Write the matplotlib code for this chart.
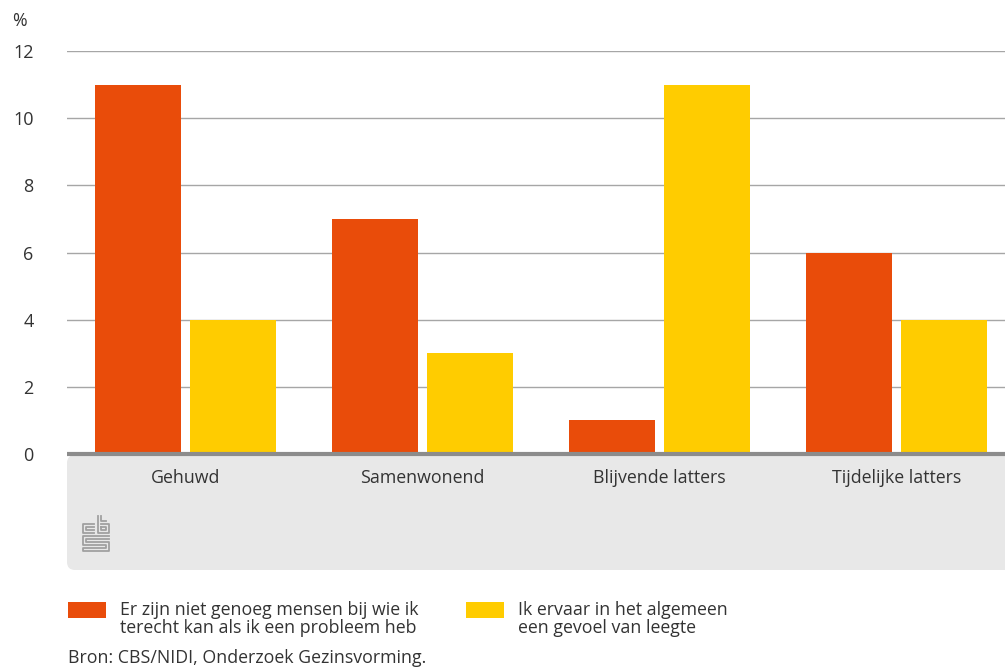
import numpy as np
import matplotlib.pyplot as plt
from matplotlib.patches import FancyBboxPatch, Rectangle
from matplotlib.lines import Line2D

plt.rcParams['font.family'] = ['Open Sans', 'DejaVu Sans']

categories = ["Gehuwd", "Samenwonend", "Blijvende latters", "Tijdelijke latters"]
geen_mensen = [11, 7, 1, 6]
leegte = [4, 3, 11, 4]
series_labels = ["Er zijn niet genoeg mensen bij wie ik\nterecht kan als ik een probleem heb",
                 "Ik ervaar in het algemeen\neen gevoel van leegte"]
yticks = [0, 2, 4, 6, 8, 10, 12]
bron = "Bron: CBS/NIDI, Onderzoek Gezinsvorming."

orange = "#e94c0a"
yellow = "#ffcc00"
tekst = "#333333"
fs = 12.8

W, H = 1005, 668
fig = plt.figure(figsize=(W / 100, H / 100), dpi=100)

def fx(px):
    return px / W

def fy(py):
    return 1 - py / H

# grijze band onder de as
band = FancyBboxPatch((fx(67), fy(570)), fx(1005 + 20) - fx(67), fy(455) - fy(570),
                      boxstyle="round,pad=0,rounding_size=0.008",
                      transform=fig.transFigure, facecolor="#e8e8e8", edgecolor="none",
                      mutation_aspect=W / H, zorder=-5)
fig.patches.append(band)

ax = fig.add_axes([fx(67), fy(454), fx(1015) - fx(67), fy(51) - fy(454)])
ax.set_facecolor("none")
ax.set_zorder(2)

x = np.arange(len(categories))
w = 0.363
off = 0.199
ax.bar(x - off, geen_mensen, w, color=orange, zorder=3)
ax.bar(x + off, leegte, w, color=yellow, zorder=3)

ax.set_xlim(-0.5, 3.5)
ax.set_ylim(0, 12)
ax.set_yticks(yticks)
ax.set_yticklabels([str(t) for t in yticks], fontsize=13, color=tekst)
ax.tick_params(axis="y", length=0, pad=24)
ax.set_xticks(x)
ax.set_xticklabels(categories, fontsize=fs, color=tekst)
ax.tick_params(axis="x", length=0, pad=11)
ax.yaxis.grid(True, color="#a6a6a6", linewidth=1)
ax.set_axisbelow(True)
for s in ["top", "right", "left"]:
    ax.spines[s].set_visible(False)
ax.spines["bottom"].set_color("#8c8c8c")
ax.spines["bottom"].set_linewidth(3)
ax.spines["bottom"].set_capstyle("butt")
ax.spines["bottom"].set_zorder(4)

fig.text(fx(12), fy(21), "%", fontsize=fs, color=tekst, va="center", ha="left")

# cbs-logo (vereenvoudigd)
lc = "#a0a0a0"
logo = [
    [(94, 524), (83, 524), (83, 533), (94, 533)],
    [(94, 527), (86, 527), (86, 530), (94, 530)],
    [(98, 516), (98, 533), (109, 533), (109, 524), (101, 524)],
    [(101, 516), (101, 521), (106, 521)],
    [(101, 527), (106, 527), (106, 530), (101, 530), (101, 527)],
    [(109, 536), (83, 536), (83, 545), (106, 545), (106, 548), (83, 548), (83, 551), (109, 551),
     (109, 542), (86, 542), (86, 539), (109, 539)],
]
for pts in logo:
    xs = [fx(p[0]) for p in pts]
    ys = [fy(p[1]) for p in pts]
    fig.add_artist(Line2D(xs, ys, color=lc, linewidth=1.3, transform=fig.transFigure))

# legenda
for (px, col, lab) in [(68, orange, series_labels[0]), (466, yellow, series_labels[1])]:
    fig.patches.append(Rectangle((fx(px), fy(618)), fx(38), fy(602) - fy(618),
                                 transform=fig.transFigure, facecolor=col, edgecolor="none"))
    fig.text(fx(px + 52), fy(601), lab, fontsize=fs, color=tekst, va="top", ha="left",
             linespacing=1.0)

fig.text(fx(68), fy(658), bron, fontsize=fs, color=tekst, va="center", ha="left")

fig.savefig("out.png", dpi=100)
